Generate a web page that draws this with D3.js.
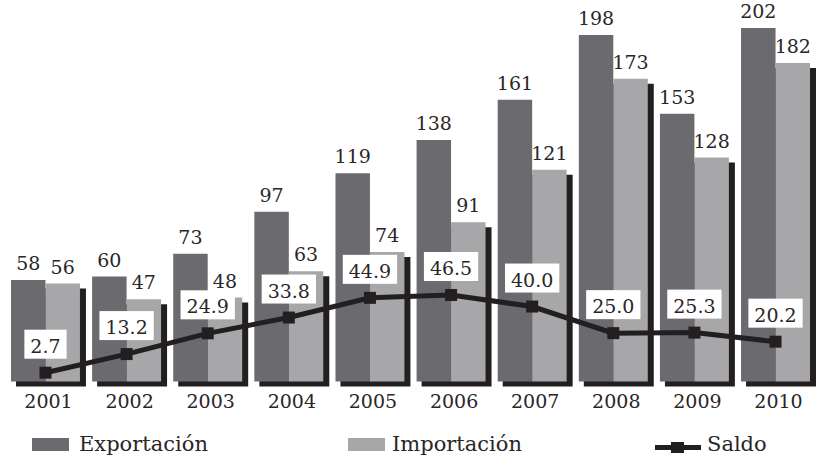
<!DOCTYPE html>
<html>
<head>
<meta charset="utf-8">
<script src="https://cdn.jsdelivr.net/npm/d3@7"></script>
<style>
  html, body { margin: 0; padding: 0; background: #ffffff; }
  svg { display: block; }
  text { font-family: "DejaVu Serif", serif; fill: #2a2628; }
</style>
</head>
<body>
<svg id="chart" width="827" height="459"></svg>
<script>
// Exportaciones, importaciones y saldo comercial, 2001–2010
const years = ['2001', '2002', '2003', '2004', '2005', '2006', '2007', '2008', '2009', '2010'];
const exportacion = [58, 60, 73, 97, 119, 138, 161, 198, 153, 202];
const importacion = [56, 47, 48, 63, 74, 91, 121, 173, 128, 182];
const saldo = [2.7, 13.2, 24.9, 33.8, 44.9, 46.5, 40.0, 25.0, 25.3, 20.2];
const seriesNames = ['Exportación', 'Importación', 'Saldo'];

const colors = { exp: '#6b6b6f', imp: '#a7a7a9', ink: '#231f20' };

const svg = d3.select('#chart');

const x = d3.scaleBand().domain(years).range([11, 810]).paddingInner(0.15).paddingOuter(0);
const xs = d3.scaleBand().domain(['exp', 'imp']).range([0, x.bandwidth()]);
const y = d3.scaleLinear().domain([0, 200]).range([381.5, 31.5]);
const ySaldo = d3.scaleLinear().domain([0, 200]).range([377.5, 22.7]);

const rows = years.map((yr, i) => ({ yr, exp: exportacion[i], imp: importacion[i], saldo: saldo[i] }));

// Drop shadow behind each pair of bars
const shadowOff = { dx: 6, dy: 5 };
svg.append('g').selectAll('rect').data(rows).join('rect')
  .attr('x', d => x(d.yr) + 5)
  .attr('y', d => y(d.imp) + shadowOff.dy)
  .attr('width', x.bandwidth() + 1)
  .attr('height', d => y(0) - y(d.imp))
  .attr('fill', colors.ink);

// Bars
const groups = svg.append('g').selectAll('g').data(rows).join('g')
  .attr('transform', d => `translate(${x(d.yr)},0)`);

['exp', 'imp'].forEach(k => {
  groups.append('rect')
    .attr('x', xs(k))
    .attr('y', d => y(d[k]))
    .attr('width', xs.bandwidth())
    .attr('height', d => y(0) - y(d[k]))
    .attr('fill', colors[k]);
  groups.append('text')
    .attr('x', xs(k) + xs.bandwidth() / 2)
    .attr('y', d => y(d[k]) - 10)
    .attr('text-anchor', 'middle')
    .attr('font-size', 19)
    .text(d => d3.format('d')(d[k]));
});

// Year axis
const axis = svg.append('g')
  .attr('transform', `translate(3,${y(0)})`)
  .call(d3.axisBottom(x).tickSize(0).tickPadding(13));
axis.select('.domain').remove();
axis.selectAll('text')
  .attr('font-family', '"DejaVu Serif", serif')
  .attr('font-size', 19)
  .attr('fill', '#2a2628');

// Saldo line
const cx = d => x(d.yr) + x.bandwidth() / 2;
const line = d3.line().x(cx).y(d => ySaldo(d.saldo));
svg.append('path')
  .datum(rows)
  .attr('d', line)
  .attr('fill', 'none')
  .attr('stroke', colors.ink)
  .attr('stroke-width', 5);

svg.append('g').selectAll('rect').data(rows).join('rect')
  .attr('x', d => cx(d) - 6)
  .attr('y', d => ySaldo(d.saldo) - 6)
  .attr('width', 12)
  .attr('height', 12)
  .attr('fill', colors.ink);

// Saldo value labels in white boxes
const lbl = svg.append('g').selectAll('g').data(rows).join('g');
lbl.append('text')
  .attr('x', cx)
  .attr('y', d => ySaldo(d.saldo) - 20)
  .attr('text-anchor', 'middle')
  .attr('font-size', 19)
  .text(d => d3.format('.1f')(d.saldo));
lbl.each(function (d) {
  const t = d3.select(this).select('text');
  const w = t.node().getComputedTextLength() + 12;
  d3.select(this).insert('rect', 'text')
    .attr('x', cx(d) - w / 2)
    .attr('y', ySaldo(d.saldo) - 14 - 29)
    .attr('width', w)
    .attr('height', 29)
    .attr('fill', '#ffffff');
});

// Legend
const legend = svg.append('g');
const legendY = 451;
[[32, colors.exp, 79, seriesNames[0]], [348, colors.imp, 392, seriesNames[1]]].forEach(([sx, c, tx, name]) => {
  legend.append('rect').attr('x', sx).attr('y', 438).attr('width', 37).attr('height', 13).attr('fill', c);
  legend.append('text').attr('x', tx).attr('y', legendY).attr('font-size', 21).text(name);
});
legend.append('line')
  .attr('x1', 655).attr('x2', 701).attr('y1', 447.5).attr('y2', 447.5)
  .attr('stroke', colors.ink).attr('stroke-width', 5);
legend.append('rect').attr('x', 671).attr('y', 442).attr('width', 13).attr('height', 11).attr('fill', colors.ink);
legend.append('text').attr('x', 707).attr('y', legendY).attr('font-size', 21).text(seriesNames[2]);
</script>
</body>
</html>
